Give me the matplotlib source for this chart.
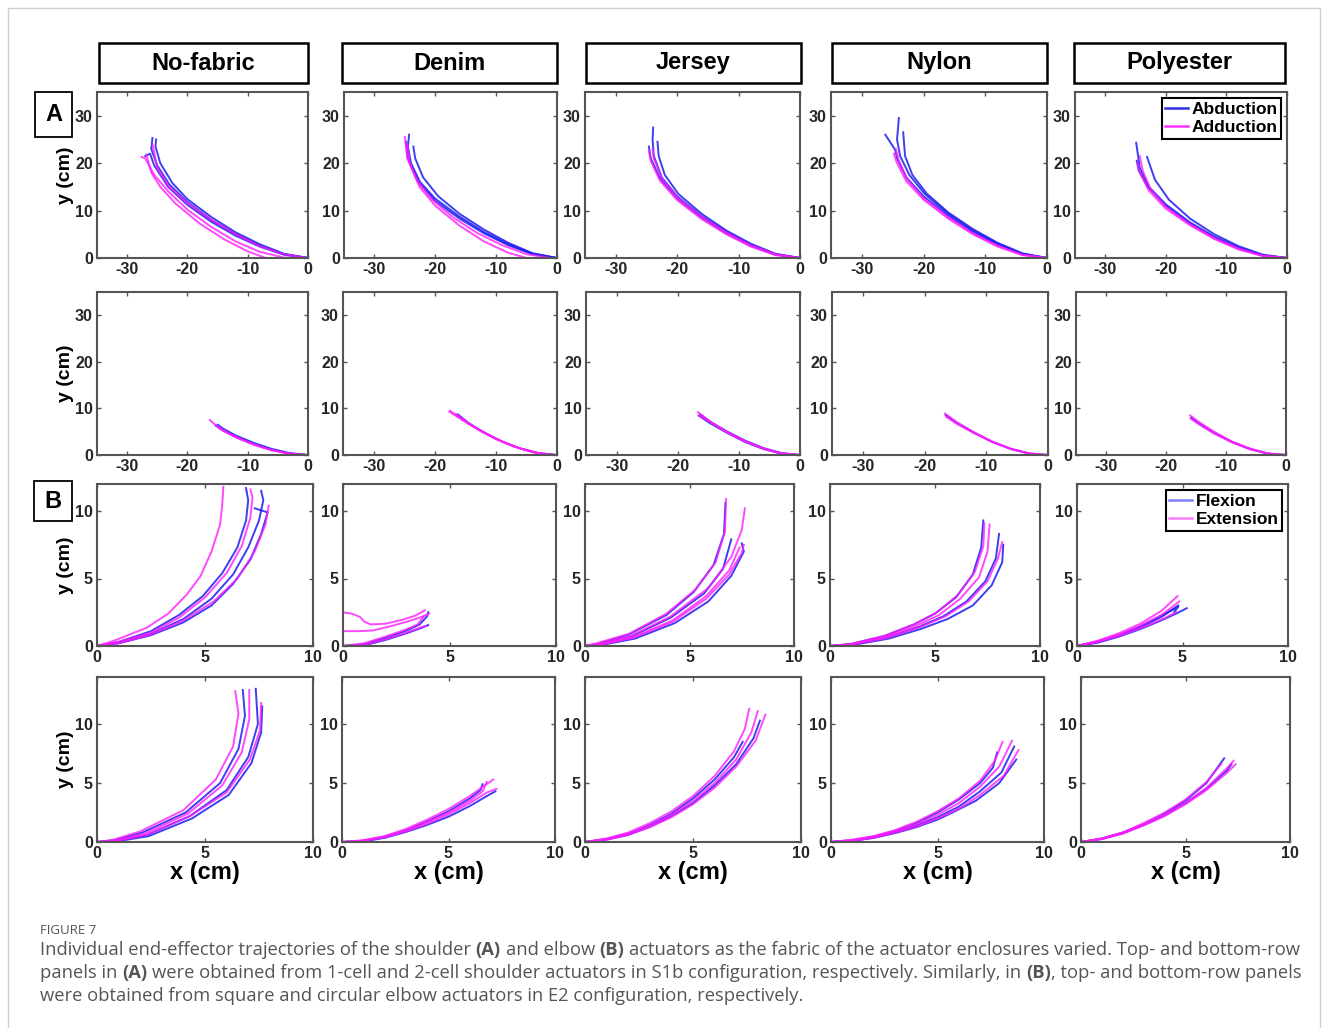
import matplotlib
matplotlib.use("Agg")
import matplotlib.pyplot as plt
from matplotlib.patches import Rectangle
from matplotlib.lines import Line2D

W, H = 1328, 1028

fabrics = ["No-fabric", "Denim", "Jersey", "Nylon", "Polyester"]

# ---- shoulder, 1-cell actuators (row 1); b = abduction, m = adduction ----
sh1_nofab_b = [
    [(0, 0), (-4, 0.8), (-8, 2.6), (-12, 5), (-16, 8), (-20, 11.8), (-23, 15.5), (-25, 19.5), (-26, 23), (-25.8, 25.3)],
    [(0, 0), (-4, 0.9), (-8, 2.9), (-12, 5.4), (-16, 8.6), (-20, 12.4), (-22.5, 15.8), (-24.5, 20), (-25.3, 23.5), (-25.2, 25)],
    [(0, 0), (-4, 0.7), (-8, 2.4), (-12, 4.7), (-16, 7.6), (-20, 11.2), (-23.2, 15), (-25.5, 19.5), (-26.2, 22), (-27, 21.5)],
]
sh1_nofab_m = [
    [(0, 0), (-4, 0.8), (-8, 2.5), (-12, 5), (-16, 8), (-20, 11.6), (-23, 15), (-25, 19), (-25.8, 24)],
    [(0, 0), (-4, 0.1), (-8, 1.3), (-12, 3.5), (-16, 6.5), (-20, 10.2), (-23, 13.8), (-25.5, 17.5), (-27, 21), (-27.6, 21.3)],
    [(0, 0), (-7, 0), (-10, 1.4), (-14, 4), (-18, 7.3), (-22, 11.5), (-24.5, 15), (-26, 18), (-26.8, 21.8)],
]
sh1_denim_b = [
    [(0, 0), (-4, 0.9), (-8, 2.9), (-12, 5.5), (-16, 8.7), (-20, 12.5), (-22.5, 16), (-24, 20), (-24.5, 23.5), (-24.3, 26)],
    [(0, 0), (-4, 1.0), (-8, 3.2), (-12, 6), (-16, 9.3), (-19.5, 13), (-22, 17), (-23.3, 21), (-23.6, 23.5)],
    [(0, 0), (-4, 0.8), (-8, 2.7), (-12, 5.2), (-16, 8.3), (-20, 12), (-22.8, 16), (-24.5, 21), (-24.8, 24.5)],
]
sh1_denim_m = [
    [(-1, 0), (-5, 0.8), (-9, 2.7), (-13, 5.2), (-17, 8.5), (-20.5, 12.3), (-23, 16.3), (-24.6, 21), (-25, 25.5)],
    [(-5, 0), (-8, 1.1), (-12, 3.5), (-16, 6.8), (-20, 11), (-22.6, 15), (-24.2, 20), (-24.6, 24)],
]
sh1_jersey_b = [
    [(0, 0), (-4, 0.8), (-8, 2.8), (-12, 5.5), (-16, 8.8), (-20, 13), (-22.5, 17), (-23.8, 21.5), (-24, 25), (-23.9, 27.5)],
    [(0, 0), (-4, 0.9), (-8, 3), (-12, 5.8), (-16, 9.3), (-19.8, 13.5), (-22, 17.5), (-23, 21.5), (-23.2, 24.5)],
    [(0, 0), (-4, 0.7), (-8, 2.6), (-12, 5.2), (-16, 8.5), (-20, 12.6), (-22.8, 16.8), (-24.3, 21), (-24.6, 23.5)],
]
sh1_jersey_m = [
    [(0, 0), (-4, 0.6), (-8, 2.4), (-12, 5), (-16, 8.2), (-20, 12.2), (-22.8, 16.3), (-24.3, 20.5), (-24.6, 22.5)],
    [(0, 0), (-4, 0.8), (-8, 2.7), (-12, 5.4), (-16, 8.7), (-20, 12.8), (-22.5, 16.8), (-23.8, 21), (-24, 23)],
]
sh1_nylon_b = [
    [(0, 0), (-4, 0.9), (-8, 3), (-12, 5.8), (-16, 9.3), (-19.8, 13.5), (-22.3, 17.5), (-23.8, 21.5), (-24.3, 25), (-24, 29.5)],
    [(0, 0), (-4, 0.8), (-8, 2.8), (-12, 5.5), (-16, 8.9), (-20, 13), (-22.8, 17), (-24.3, 21), (-24.6, 22.8), (-26.2, 26)],
    [(0, 0), (-4, 1.0), (-8, 3.2), (-12, 6.1), (-16, 9.6), (-19.5, 13.6), (-21.8, 17.5), (-23, 21.5), (-23.3, 26.5)],
]
sh1_nylon_m = [
    [(0, 0), (-4, 0.7), (-8, 2.6), (-12, 5.2), (-16, 8.6), (-20, 12.6), (-22.6, 16.5), (-24, 20.5), (-24.5, 23)],
    [(0, 0), (-4, 0.6), (-8, 2.4), (-12, 5), (-16, 8.3), (-20, 12.3), (-22.8, 16.2), (-24.4, 20.3), (-24.8, 22)],
]
sh1_poly_b = [
    [(0, 0), (-4, 0.6), (-8, 2.2), (-12, 4.5), (-16, 7.5), (-20, 11.3), (-22.8, 15), (-24.3, 19), (-24.9, 24.3)],
    [(0, 0), (-4, 0.7), (-8, 2.5), (-12, 5), (-16, 8.3), (-19.5, 12.3), (-21.8, 16.5), (-23.1, 21.3)],
    [(0, 0), (-4, 0.5), (-8, 2), (-12, 4.3), (-16, 7.2), (-20, 11), (-23, 15), (-24.5, 18.5), (-24.8, 20.5)],
]
sh1_poly_m = [
    [(0, 0), (-4, 0.4), (-8, 1.8), (-12, 4), (-16, 6.9), (-20, 10.4), (-22.8, 14.2), (-24.3, 18), (-24.7, 20)],
    [(0, 0), (-4, 0.5), (-8, 2), (-12, 4.2), (-16, 7.1), (-20, 10.8), (-22.5, 14.5), (-23.8, 18.3), (-24.3, 21.5)],
]

# ---- shoulder, 2-cell actuators (row 2) ----
sh2_nofab_b = [
    [(0, 0), (-3, 0.3), (-6, 1.1), (-9, 2.3), (-12, 3.9), (-14, 5.2), (-15.3, 6.3)],
    [(0, 0), (-3, 0.4), (-6, 1.3), (-9, 2.6), (-12, 4.2), (-14, 5.6), (-15, 6.5)],
]
sh2_nofab_m = [
    [(0, 0), (-3, 0.3), (-6, 1.0), (-9, 2.2), (-12, 3.8), (-14.5, 5.5), (-16.3, 7.5)],
    [(-1, 0), (-4, 0.5), (-7, 1.4), (-10, 2.8), (-13, 4.5), (-15.2, 6.3)],
]
sh2_denim_b = [
    [(0, 0), (-3, 0.4), (-6, 1.4), (-9, 2.9), (-12, 4.9), (-14.5, 6.9), (-16.2, 8.7)],
]
sh2_denim_m = [
    [(0, 0), (-3, 0.4), (-6, 1.4), (-9, 2.9), (-12, 4.8), (-14.5, 6.8), (-16.5, 8.8)],
    [(-0.5, 0), (-3.5, 0.5), (-7, 1.8), (-10, 3.5), (-13, 5.6), (-15.5, 7.6), (-17.5, 9.5)],
    [(-1, 0), (-4, 0.6), (-7, 1.8), (-10, 3.4), (-13, 5.5), (-15.8, 7.8), (-17.6, 9.3)],
]
sh2_jersey_b = [
    [(0, 0), (-3, 0.4), (-6, 1.5), (-9, 3.1), (-12, 5.1), (-14.5, 7), (-16.3, 8.7)],
    [(0, 0), (-3, 0.3), (-6, 1.3), (-9, 2.8), (-12, 4.8), (-14.8, 6.9), (-16.5, 8.4)],
]
sh2_jersey_m = [
    [(0, 0), (-3, 0.4), (-6, 1.4), (-9, 3), (-12, 5), (-14.7, 7.2), (-16.7, 9.2)],
    [(0, 0), (-3, 0.3), (-6, 1.3), (-9, 2.9), (-12, 4.9), (-14.6, 7), (-16.6, 8.5)],
]
sh2_nylon_b = [
    [(0, 0), (-3, 0.3), (-6, 1.3), (-9, 2.8), (-12, 4.8), (-14.8, 6.9), (-16.6, 8.6)],
]
sh2_nylon_m = [
    [(0, 0), (-3, 0.35), (-6, 1.35), (-9, 2.9), (-12, 4.9), (-14.7, 7), (-16.7, 8.9)],
    [(0, 0), (-3, 0.3), (-6, 1.25), (-9, 2.75), (-12, 4.7), (-14.8, 6.7), (-16.5, 8.2)],
]
sh2_poly_b = [
    [(0, 0), (-3, 0.3), (-6, 1.3), (-9, 2.8), (-12, 4.8), (-14.3, 6.6), (-15.8, 8)],
]
sh2_poly_m = [
    [(0, 0), (-3, 0.35), (-6, 1.4), (-9, 2.9), (-12, 5), (-14.4, 7), (-16, 8.5)],
    [(0, 0), (-3, 0.3), (-6, 1.2), (-9, 2.7), (-12, 4.6), (-14.4, 6.5), (-15.9, 7.8)],
]

# ---- elbow, square actuators (row 3); b = flexion, m = extension ----
el_sq_nofab_b = [
    [(0, 0), (1, 0.3), (2.5, 1.1), (3.8, 2.3), (4.9, 3.7), (5.8, 5.4), (6.5, 7.3), (6.9, 9.3), (7.0, 10.8), (6.9, 11.7)],
    [(0, 0), (1, 0.25), (2.5, 0.9), (4, 2), (5.3, 3.5), (6.3, 5.3), (7, 7.3), (7.5, 9.3), (7.7, 10.8), (7.6, 11.5)],
    [(0, 0), (1, 0.2), (2.5, 0.8), (4, 1.75), (5.3, 3), (6.3, 4.6), (7.1, 6.4), (7.6, 8.3), (7.9, 9.9), (7.3, 10.2)],
]
el_sq_nofab_m = [
    [(0, 0), (0.8, 0.4), (2.3, 1.35), (3.3, 2.4), (4.15, 3.8), (4.8, 5.2), (5.3, 7), (5.7, 9), (5.8, 10.5), (5.85, 11.8)],
    [(0, 0), (1, 0.3), (2.5, 1.0), (3.8, 2.1), (5, 3.6), (6, 5.4), (6.7, 7.4), (7.1, 9.5), (7.2, 11), (7.1, 11.6)],
    [(0, 0), (1, 0.2), (2.5, 0.85), (4, 1.9), (5.4, 3.3), (6.5, 5), (7.3, 7), (7.8, 9), (7.95, 10.4)],
]
el_sq_denim_b = [
    [(0, 0), (1, 0.15), (2, 0.6), (3, 1.15), (3.6, 1.6), (3.95, 2.2), (4.0, 2.5)],
    [(0, 0), (1, 0.05), (2, 0.45), (3, 0.95), (3.7, 1.35), (4, 1.55)],
]
el_sq_denim_m = [
    [(0, 2.5), (0.4, 2.4), (0.8, 2.15), (1.0, 1.8), (1.3, 1.6), (2, 1.65), (2.8, 1.95), (3.4, 2.25), (3.85, 2.65)],
    [(0, 1.1), (0.7, 1.1), (1.4, 1.15), (2.2, 1.45), (3.0, 1.8), (3.6, 2.1), (4.05, 2.4)],
    [(0, 0), (1, 0.1), (2, 0.5), (3, 1.0), (3.6, 1.35), (3.9, 1.5)],
    [(0, 0), (1, 0.2), (2, 0.7), (3, 1.25), (3.5, 1.6), (3.8, 2.2)],
]
el_sq_jersey_b = [
    [(0, 0), (0.6, 0.15), (2.1, 0.85), (3.9, 2.3), (5.2, 4), (6.15, 6), (6.65, 8.3), (6.72, 10.6)],
    [(0, 0), (0.6, 0.1), (2.2, 0.7), (4.1, 2.1), (5.7, 3.9), (6.6, 5.7), (7.0, 7.9)],
    [(0, 0), (0.7, 0.05), (2.4, 0.55), (4.3, 1.7), (5.9, 3.3), (7.0, 5.2), (7.6, 7.0), (7.5, 7.6)],
]
el_sq_jersey_m = [
    [(0, 0), (0.55, 0.2), (2.1, 0.9), (3.9, 2.4), (5.3, 4.2), (6.25, 6.2), (6.7, 8.5), (6.75, 10.9)],
    [(0, 0), (0.6, 0.1), (2.2, 0.75), (4.1, 2.2), (5.9, 4.3), (7, 6.6), (7.5, 8.6), (7.65, 10.2)],
    [(0, 0), (0.7, 0.1), (2.3, 0.6), (4.2, 1.8), (5.8, 3.5), (6.9, 5.3), (7.5, 6.9), (7.6, 7.5)],
    [(0, 0), (0.7, 0.1), (2.3, 0.65), (4.2, 1.9), (5.8, 3.7), (6.9, 5.6), (7.4, 7.3)],
]
el_sq_nylon_b = [
    [(0, 0), (1, 0.15), (2.6, 0.75), (4, 1.6), (5, 2.4), (6, 3.6), (6.8, 5.3), (7.2, 7.3), (7.3, 9.3)],
    [(0, 0), (1, 0.1), (2.7, 0.65), (4.2, 1.4), (5.4, 2.2), (6.5, 3.3), (7.4, 4.8), (7.9, 6.5), (8.05, 8.3)],
    [(0, 0), (1, 0.05), (2.8, 0.55), (4.3, 1.25), (5.6, 2.0), (6.8, 3.0), (7.7, 4.5), (8.2, 6.2), (8.25, 7.5)],
]
el_sq_nylon_m = [
    [(0, 0), (1, 0.15), (2.6, 0.75), (4, 1.6), (5.1, 2.5), (6.1, 3.8), (6.9, 5.5), (7.3, 7.4), (7.35, 9.1)],
    [(0, 0), (1, 0.1), (2.7, 0.7), (4.1, 1.5), (5.2, 2.3), (6.2, 3.5), (7.1, 5.1), (7.5, 7), (7.6, 9.0)],
    [(0, 0), (1, 0.1), (2.7, 0.6), (4.2, 1.35), (5.5, 2.2), (6.6, 3.3), (7.5, 4.8), (8.0, 6.5), (8.2, 7.7)],
]
el_sq_poly_b = [
    [(0, 0), (1, 0.35), (2, 0.8), (3, 1.4), (4, 2.15), (4.8, 3.0)],
    [(0, 0), (1, 0.25), (2, 0.7), (3, 1.25), (4, 1.9), (4.7, 2.4), (5.2, 2.8)],
    [(0, 0), (1, 0.3), (2, 0.8), (3, 1.45), (4, 2.25), (4.8, 2.9), (4.6, 2.5)],
]
el_sq_poly_m = [
    [(0, 0), (1, 0.4), (2, 0.95), (3, 1.65), (4, 2.6), (4.77, 3.7)],
    [(0, 0), (1, 0.35), (2, 0.85), (3, 1.5), (4, 2.3), (4.85, 3.3)],
    [(0, 0), (1, 0.3), (2, 0.75), (3, 1.3), (4, 1.95), (4.7, 2.5)],
]

# ---- elbow, circular actuators (row 4) ----
el_ci_nofab_b = [
    [(0, 0), (0.8, 0.15), (2.1, 0.8), (4.1, 2.5), (5.7, 5.0), (6.55, 7.9), (6.85, 10.7), (6.75, 12.9)],
    [(0, 0), (0.8, 0.1), (2.3, 0.6), (4.3, 2.2), (6, 4.4), (7, 7.2), (7.45, 10), (7.35, 13)],
    [(0, 0), (0.9, 0.05), (2.4, 0.5), (4.4, 2.0), (6.1, 4.0), (7.15, 6.7), (7.6, 9.3), (7.65, 11.5)],
]
el_ci_nofab_m = [
    [(0, 0), (0.77, 0.2), (2, 0.9), (4, 2.7), (5.5, 5.3), (6.3, 8.1), (6.55, 10.9), (6.4, 12.8)],
    [(0, 0), (0.8, 0.1), (2.2, 0.7), (4.2, 2.4), (5.8, 4.8), (6.7, 7.6), (7.05, 10.4), (7.05, 12.9)],
    [(0, 0), (0.8, 0.05), (2.3, 0.6), (4.3, 2.2), (6, 4.2), (7.08, 7), (7.55, 9.5), (7.6, 11.8)],
]
el_ci_denim_b = [
    [(0, 0), (1, 0.1), (2, 0.45), (3, 1.0), (4, 1.75), (5, 2.6), (6, 3.7), (6.5, 4.4), (6.6, 4.9)],
    [(0, 0), (1, 0.05), (2, 0.35), (3, 0.85), (4, 1.45), (5, 2.15), (6, 3.05), (6.8, 3.9), (7.2, 4.3)],
]
el_ci_denim_m = [
    [(0, 0), (1, 0.15), (2, 0.5), (3, 1.1), (4, 1.9), (5, 2.8), (6, 3.9), (6.7, 4.8), (7.1, 5.3)],
    [(0, 0), (1, 0.1), (2, 0.4), (3, 0.9), (4, 1.55), (5, 2.35), (6, 3.3), (6.8, 4.2), (7.25, 4.5)],
    [(0, 0), (1, 0.12), (2, 0.45), (3, 1.0), (4, 1.7), (5, 2.5), (6, 3.5), (6.6, 4.3), (6.8, 5.1)],
]
el_ci_jersey_b = [
    [(0, 0), (1, 0.25), (2, 0.7), (3, 1.45), (4, 2.4), (5, 3.7), (6, 5.3), (6.9, 7.2), (7.3, 8.5)],
    [(0, 0), (1, 0.2), (2, 0.6), (3, 1.3), (4, 2.2), (5, 3.3), (6, 4.8), (7, 6.6), (7.8, 8.8), (8.1, 10.3)],
]
el_ci_jersey_m = [
    [(0, 0), (1, 0.3), (2, 0.8), (3, 1.6), (4, 2.6), (5, 3.9), (6, 5.6), (6.9, 7.7), (7.4, 9.6), (7.6, 11.3)],
    [(0, 0), (1, 0.25), (2, 0.7), (3, 1.4), (4, 2.3), (5, 3.5), (6, 5.0), (7, 7.0), (7.7, 9.3), (8.0, 11.1)],
    [(0, 0), (1, 0.2), (2, 0.6), (3, 1.25), (4, 2.1), (5, 3.2), (6, 4.6), (7, 6.4), (7.9, 8.6), (8.35, 10.8)],
]
el_ci_nylon_b = [
    [(0, 0), (1, 0.15), (2, 0.45), (3, 0.95), (4, 1.6), (5, 2.5), (6, 3.6), (7, 5.0), (7.6, 6.3), (7.8, 7.6)],
    [(0, 0), (1, 0.1), (2, 0.4), (3, 0.85), (4, 1.4), (5, 2.1), (6, 3.0), (7, 4.3), (8, 5.9), (8.6, 8.1)],
    [(0, 0), (1, 0.1), (2, 0.35), (3, 0.75), (4, 1.25), (5, 1.9), (5.7, 2.5), (6.8, 3.5), (7.9, 5.0), (8.7, 7.0)],
]
el_ci_nylon_m = [
    [(0, 0), (1, 0.2), (2, 0.5), (3, 1.0), (4, 1.7), (5, 2.6), (6, 3.7), (7, 5.2), (7.7, 6.9), (8.05, 8.5)],
    [(0, 0), (1, 0.15), (2, 0.45), (3, 0.9), (4, 1.5), (5, 2.3), (6, 3.3), (7, 4.7), (7.9, 6.4), (8.5, 8.6)],
    [(0, 0), (1, 0.1), (2, 0.35), (3, 0.8), (4, 1.3), (5, 2.0), (6, 2.8), (7, 4.0), (8.1, 5.6), (8.8, 7.8)],
]
el_ci_poly_b = [
    [(0, 0), (1, 0.3), (2, 0.8), (3, 1.5), (4, 2.4), (5, 3.5), (6, 5.0), (6.85, 7.1)],
    [(0, 0), (1, 0.25), (2, 0.75), (3, 1.45), (4, 2.25), (5, 3.3), (6, 4.5), (7, 6.1), (7.2, 6.6)],
]
el_ci_poly_m = [
    [(0, 0), (1, 0.3), (2, 0.8), (3, 1.6), (4, 2.5), (5, 3.6), (6, 5.1), (6.7, 6.6)],
    [(0, 0), (1, 0.3), (2, 0.8), (3, 1.5), (4, 2.3), (5, 3.3), (6, 4.6), (7, 6.3), (7.3, 6.9)],
    [(0, 0), (1, 0.25), (2, 0.7), (3, 1.4), (4, 2.2), (5, 3.2), (6, 4.4), (7, 5.9), (7.4, 6.6)],
]

rows = [
    [(sh1_nofab_b, sh1_nofab_m), (sh1_denim_b, sh1_denim_m), (sh1_jersey_b, sh1_jersey_m),
     (sh1_nylon_b, sh1_nylon_m), (sh1_poly_b, sh1_poly_m)],
    [(sh2_nofab_b, sh2_nofab_m), (sh2_denim_b, sh2_denim_m), (sh2_jersey_b, sh2_jersey_m),
     (sh2_nylon_b, sh2_nylon_m), (sh2_poly_b, sh2_poly_m)],
    [(el_sq_nofab_b, el_sq_nofab_m), (el_sq_denim_b, el_sq_denim_m), (el_sq_jersey_b, el_sq_jersey_m),
     (el_sq_nylon_b, el_sq_nylon_m), (el_sq_poly_b, el_sq_poly_m)],
    [(el_ci_nofab_b, el_ci_nofab_m), (el_ci_denim_b, el_ci_denim_m), (el_ci_jersey_b, el_ci_jersey_m),
     (el_ci_nylon_b, el_ci_nylon_m), (el_ci_poly_b, el_ci_poly_m)],
]

# panel boxes in pixels: (left, right) per column, (top, bottom) per row
row_cols = [
    [(97, 308), (344, 557), (585, 800), (831, 1047), (1075, 1287)],
    [(97, 308), (343, 557), (586, 800), (832, 1048), (1076, 1286)],
    [(97, 313), (343, 556), (585, 794), (830, 1040), (1077, 1288)],
    [(97, 313), (342, 555), (585, 801), (831, 1044), (1081, 1290)],
]
row_tb = [(92, 258), (292, 455), (484, 646), (677, 842)]

plt.rcParams['font.family'] = ['Liberation Sans', 'DejaVu Sans']
plt.rcParams['axes.unicode_minus'] = False

BLUE = '#1c1cf0'
MAG = '#ff1cff'
AX_GRAY = '#555555'
TXT = '#262626'

fig = plt.figure(figsize=(W / 100, H / 100), dpi=100)
fig.patch.set_facecolor('white')


def fx(x):
    return x / W


def fy(y):
    return 1 - y / H


# outer frame of the figure card
fig.add_artist(Rectangle((fx(8), fy(1060)), fx(1312), 1052 / H,
                         transform=fig.transFigure, fill=False, ec='#cfcfcf', lw=1.0))


def add_legend(ax, labels, colors):
    hs = [Line2D([], [], color=col, lw=1.8) for col in colors]
    leg = ax.legend(hs, labels, loc='upper right', fancybox=False,
                    framealpha=1, edgecolor='black', prop={'weight': 'bold', 'size': 12.5},
                    handlelength=1.3, handletextpad=0.2, borderpad=0.2,
                    labelspacing=0.2, borderaxespad=0.35)
    leg.get_frame().set_linewidth(1.5)


for r in range(4):
    top, bot = row_tb[r]
    for c in range(5):
        left, right = row_cols[r][c]
        ax = fig.add_axes([fx(left), fy(bot), (right - left) / W, (bot - top) / H])
        blues, mags = rows[r][c]
        for pts in blues:
            xs, ys = zip(*pts)
            ax.plot(xs, ys, color=BLUE, lw=1.4, alpha=0.85, solid_joinstyle='round')
        for pts in mags:
            xs, ys = zip(*pts)
            ax.plot(xs, ys, color=MAG, lw=1.4, alpha=0.8, solid_joinstyle='round')
        if r < 2:
            ax.set_xlim(-35, 0)
            ax.set_ylim(0, 35)
            ax.set_xticks([-30, -20, -10, 0])
            ax.set_yticks([0, 10, 20, 30])
        else:
            ax.set_xlim(0, 10)
            ax.set_ylim(0, 12 if r == 2 else 14)
            ax.set_xticks([0, 5, 10])
            ax.set_yticks([0, 5, 10])
        ax.tick_params(direction='in', length=3, width=1, top=True, right=True,
                       colors=AX_GRAY, labelcolor=TXT, labelsize=11.5, pad=3)
        for lab in ax.get_xticklabels() + ax.get_yticklabels():
            lab.set_fontweight('bold')
        for s in ax.spines.values():
            s.set_color(AX_GRAY)
            s.set_linewidth(1.5)
        if c == 0:
            ax.set_ylabel('y (cm)', fontsize=14, fontweight='bold', color='black', labelpad=1)
        if r == 3:
            ax.set_xlabel('x (cm)', fontsize=17, fontweight='bold', color='black', labelpad=0)
        if r == 0 and c == 4:
            add_legend(ax, ['Abduction', 'Adduction'], ['#3030e0', '#ff30ff'])
        if r == 2 and c == 4:
            add_legend(ax, ['Flexion', 'Extension'], ['#7f7fff', '#ff80ff'])

# column headers
header_boxes = [(99, 308), (342, 557), (586, 801), (832, 1047), (1074, 1285)]
for name, (l, r_) in zip(fabrics, header_boxes):
    fig.add_artist(Rectangle((fx(l), fy(83)), (r_ - l) / W, 40 / H, transform=fig.transFigure,
                             fill=False, ec='black', lw=1.8))
    fig.text(fx((l + r_) / 2), fy(63), name, ha='center', va='center',
             fontsize=17, fontweight='bold', color='black')

# section labels A / B
for lab, (l, t, r_, b) in [('A', (35, 92, 72, 137)), ('B', (34, 481, 72, 521))]:
    fig.add_artist(Rectangle((fx(l), fy(b)), (r_ - l) / W, (b - t) / H, transform=fig.transFigure,
                             fill=False, ec='black', lw=1.3))
    fig.text(fx((l + r_) / 2), fy((t + b) / 2), lab, ha='center', va='center',
             fontsize=17, fontweight='bold', color='black')

# caption
cap_font = ['Open Sans', 'DejaVu Sans']
cap_color = '#555555'
fig.text(fx(40), fy(931), 'FIGURE 7', ha='left', va='center', fontsize=9.5,
         color='#555555', family=cap_font, fontweight='normal')

cap_lines = [
    [("Individual end-effector trajectories of the shoulder ", False), ("(A)", True),
     (" and elbow ", False), ("(B)", True),
     (" actuators as the fabric of the actuator enclosures varied. Top- and bottom-row", False)],
    [("panels in ", False), ("(A)", True),
     (" were obtained from 1-cell and 2-cell shoulder actuators in S1b configuration, respectively. Similarly, in ", False),
     ("(B)", True), (", top- and bottom-row panels", False)],
    [("were obtained from square and circular elbow actuators in E2 configuration, respectively.", False)],
]
cap_y = [950, 973, 996]

renderer = fig.canvas.get_renderer()


def text_w(s, bold, size):
    t = fig.text(0, 0, s, fontsize=size, fontweight='bold' if bold else 'normal', family=cap_font)
    w = t.get_window_extent(renderer).width
    t.remove()
    return w


def seg_w(s, bold, size):
    core = s.strip(' ')
    n_sp = len(s) - len(core)
    sp = text_w('a a', bold, size) - text_w('aa', bold, size)
    return text_w(core, bold, size) + n_sp * sp


base = 12
w0 = sum(seg_w(s, b, base) for s, b in cap_lines[0])
cap_size = base * 1252 / w0

for segs, y in zip(cap_lines, cap_y):
    x = 40
    for s, b in segs:
        core = s.strip(' ')
        lead = len(s) - len(s.lstrip(' '))
        sp = text_w('a a', b, cap_size) - text_w('aa', b, cap_size)
        x += lead * sp
        fig.text(fx(x), fy(y), core, ha='left', va='center', fontsize=cap_size,
                 fontweight='bold' if b else 'normal', color=cap_color, family=cap_font)
        x += seg_w(s, b, cap_size) - lead * sp

fig.savefig('out.png', dpi=100, facecolor='white')
